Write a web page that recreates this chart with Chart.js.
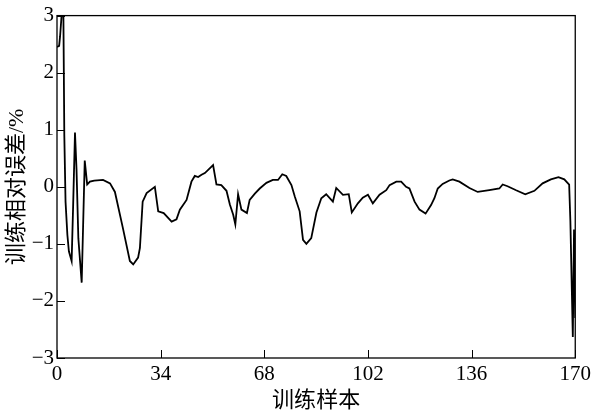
<!DOCTYPE html>
<html>
<head>
<meta charset="utf-8">
<script src="https://cdn.jsdelivr.net/npm/chart.js@4"></script>
<style>
  html, body { margin: 0; padding: 0; background: #fff; }
  #wrap { width: 595px; height: 413px; }
</style>
</head>
<body>
<div id="wrap"><canvas id="myChart" width="595" height="413"></canvas></div>
<script>
// sample index (x) and training relative error in % (y)
const sampleX = [0, 0.7, 1.0, 1.5, 2.1, 2.4, 2.8, 3.4, 3.9, 4.8, 5.3, 5.9, 6.4, 7.0, 8.1, 9.1, 9.9, 10.8,
  12.2, 15.1, 17.4, 19.0, 21.6, 23.9, 25.0, 26.6, 27.2, 28.1, 29.4, 32.1, 33.2, 35.0, 37.6, 39.2,
  40.3, 42.5, 44.1, 45.2, 46.3, 47.4, 48.5, 51.2, 52.3, 53.9, 55.6, 56.7, 57.8, 58.5, 59.4, 60.5,
  62.3, 63.2, 64.9, 66.5, 68.7, 70.8, 72.5, 73.9, 75.2, 76.9, 78.0, 79.6, 80.7, 81.8, 83.4, 85.1,
  86.7, 88.3, 90.5, 91.6, 93.8, 95.7, 96.7, 98.7, 100.3, 102.0, 103.6, 105.8, 108.0, 109.1, 111.3,
  112.9, 114.5, 115.6, 117.3, 118.9, 120.9, 122.7, 123.8, 124.9, 126.5, 128.7, 129.8, 132.0, 135.3,
  138.0, 141.8, 145.1, 146.2, 147.8, 150.6, 153.6, 156.6, 159.3, 162.0, 164.5, 166.4, 168.0, 168.4,
  169.2, 169.6, 170];
const errorPct = [2.45, 2.47, 2.63, 3.0, 3.0, 0.9, -0.26, -0.84, -1.13, -1.3, -0.32, 0.95, 0.31, -0.9,
  -1.68, 0.46, 0.04, 0.09, 0.11, 0.12, 0.06, -0.09, -0.72, -1.3, -1.36, -1.24, -1.07, -0.26, -0.11,
  0.0, -0.43, -0.46, -0.61, -0.57, -0.4, -0.23, 0.09, 0.19, 0.17, 0.21, 0.24, 0.38, 0.04, 0.03, -0.07,
  -0.31, -0.49, -0.66, -0.13, -0.40, -0.46, -0.23, -0.12, -0.03, 0.07, 0.12, 0.12, 0.22, 0.19, 0.03,
  -0.17, -0.43, -0.93, -1.0, -0.9, -0.45, -0.2, -0.13, -0.26, -0.02, -0.14, -0.13, -0.45, -0.29,
  -0.19, -0.14, -0.29, -0.14, -0.06, 0.03, 0.09, 0.09, 0.0, -0.03, -0.26, -0.4, -0.47, -0.32, -0.2,
  -0.03, 0.05, 0.11, 0.13, 0.09, -0.02, -0.09, -0.06, -0.03, 0.04, 0.01, -0.06, -0.13, -0.07, 0.06,
  0.13, 0.17, 0.13, 0.04, -0.6, -2.63, -0.75, -2.3];
const xTicks = [0, 34, 68, 102, 136, 170];
const yTicks = [-3, -2, -1, 0, 1, 2, 3];
const xTitle = '训练样本';
const yTitle = '训练相对误差/%';

const FONT = "'Liberation Serif', 'Noto Sans CJK SC', serif";

// frame, inward tick marks and axis titles
const framePlugin = {
  id: 'frame',
  afterDraw(chart) {
    const { ctx, chartArea: a, scales } = chart;
    ctx.save();
    ctx.strokeStyle = '#000';
    ctx.lineWidth = 1.3;
    ctx.strokeRect(a.left, a.top, a.right - a.left, a.bottom - a.top);
    ctx.beginPath();
    xTicks.forEach(v => {
      const px = Math.round(scales.x.getPixelForValue(v)) + 0.5;
      ctx.moveTo(px, a.bottom);
      ctx.lineTo(px, a.bottom - 8);
    });
    yTicks.forEach(v => {
      const py = Math.round(scales.y.getPixelForValue(v)) + 0.5;
      ctx.moveTo(a.left, py);
      ctx.lineTo(a.left + 8, py);
    });
    ctx.lineWidth = 1;
    ctx.stroke();

    ctx.fillStyle = '#000';
    ctx.font = '22px ' + FONT;
    ctx.textAlign = 'center';
    ctx.textBaseline = 'middle';
    ctx.fillText(xTitle, (a.left + a.right) / 2, 401);
    ctx.translate(17, (a.top + a.bottom) / 2);
    ctx.rotate(-Math.PI / 2);
    ctx.fillText(yTitle, 0, 0);
    ctx.restore();
  }
};

const ctx = document.getElementById('myChart');
const chart = new Chart(ctx, {
  type: 'line',
  data: {
    datasets: [{
      data: sampleX.map((x, i) => ({ x: x, y: errorPct[i] })),
      borderColor: '#000',
      borderWidth: 1.8,
      pointRadius: 0,
      tension: 0,
      fill: false
    }]
  },
  options: {
    responsive: false,
    animation: false,
    layout: { padding: { top: 12, right: 19, left: 0, bottom: 0 } },
    plugins: {
      legend: { display: false },
      tooltip: { enabled: false }
    },
    scales: {
      x: {
        type: 'linear',
        min: 0,
        max: 170,
        afterBuildTicks: scale => { scale.ticks = xTicks.map(v => ({ value: v })); },
        afterFit: scale => { scale.height = 55; },
        grid: { display: false, drawTicks: false },
        border: { display: false },
        ticks: {
          padding: 4,
          color: '#000',
          maxRotation: 0,
          autoSkip: false,
          font: { family: FONT, size: 21 }
        }
      },
      y: {
        min: -3,
        max: 3,
        afterBuildTicks: scale => { scale.ticks = yTicks.map(v => ({ value: v })); },
        afterFit: scale => { scale.width = 57; },
        grid: { display: false, drawTicks: false },
        border: { display: false },
        ticks: {
          padding: 3,
          color: '#000',
          font: { family: FONT, size: 21 },
          callback: v => String(v).replace('-', '\u2212')
        }
      }
    }
  },
  plugins: [framePlugin]
});
</script>
</body>
</html>
